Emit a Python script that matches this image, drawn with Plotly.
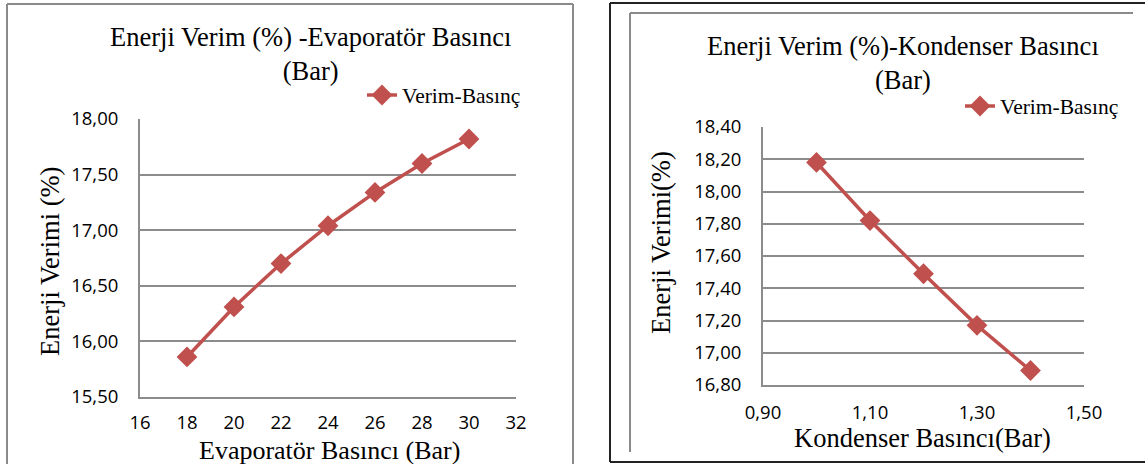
import plotly.graph_objects as go

# Evaporator pressure sweep (bar) and resulting energy efficiency (%)
evap_pressure = [18, 20, 22, 24, 26, 28, 30]
evap_efficiency = [15.86, 16.31, 16.70, 17.04, 17.34, 17.60, 17.82]

# Condenser pressure sweep (bar) and resulting energy efficiency (%)
cond_pressure = [1.00, 1.10, 1.20, 1.30, 1.40]
cond_efficiency = [18.18, 17.82, 17.49, 17.17, 16.89]

series_name = "Verim-Basınç"
left_title = "Enerji Verim (%) -Evaporatör Basıncı<br>(Bar)"
right_title = "Enerji Verim (%)-Kondenser Basıncı<br>(Bar)"
left_xtitle = "Evaporatör Basıncı (Bar)"
left_ytitle = "Enerji Verimi (%)"
right_xtitle = "Kondenser Basıncı(Bar)"
right_ytitle = "Enerji Verimi(%)"

W, H = 1145, 464
RED = "#C0504D"
GRID = "#8c8c8c"
SERIF = "'Liberation Serif', 'Times New Roman', serif"
SANS = "'Open Sans', 'Liberation Sans', sans-serif"


def px_x(v):
    return v / W


def px_y(v):
    return 1 - v / H


fig = go.Figure()

line_style = dict(color=RED, width=3.5)
marker_style = dict(symbol="diamond", size=16, color=RED)

fig.add_trace(go.Scatter(
    x=evap_pressure, y=evap_efficiency, mode="lines+markers",
    line=line_style, marker=marker_style, name=series_name,
    xaxis="x", yaxis="y", legend="legend",
))
fig.add_trace(go.Scatter(
    x=cond_pressure, y=cond_efficiency, mode="lines+markers",
    line=line_style, marker=marker_style, name=series_name,
    xaxis="x2", yaxis="y2", legend="legend2",
))

axis_common = dict(
    showline=True, linecolor=GRID, linewidth=2, mirror=False,
    ticks="", tickfont=dict(family=SANS, size=18.5, color="#000"),
    zeroline=False, fixedrange=True, automargin=False,
)

fig.update_layout(
    width=W, height=H,
    margin=dict(l=0, r=0, t=0, b=0, pad=0, autoexpand=False),
    paper_bgcolor="white", plot_bgcolor="white",
    separators=",.",
    xaxis=dict(
        domain=[px_x(140), px_x(516)], anchor="y",
        range=[16, 32], dtick=2, tick0=16, tickformat="d",
        showgrid=False, ticklabelstandoff=8, **axis_common,
    ),
    yaxis=dict(
        domain=[px_y(397), px_y(119)], anchor="x",
        range=[15.5, 18.0], dtick=0.5, tick0=15.5, tickformat=".2f",
        showgrid=True, gridcolor=GRID, gridwidth=2,
        ticklabelstandoff=16, **axis_common,
    ),
    xaxis2=dict(
        domain=[px_x(763), px_x(1084)], anchor="y2",
        range=[0.9, 1.5], dtick=0.2, tick0=0.9, tickformat=".2f",
        showgrid=False, ticklabelstandoff=10, **axis_common,
    ),
    yaxis2=dict(
        domain=[px_y(385), px_y(127)], anchor="x2",
        range=[16.8, 18.4], dtick=0.2, tick0=16.8, tickformat=".2f",
        showgrid=True, gridcolor=GRID, gridwidth=2,
        ticklabelstandoff=16, **axis_common,
    ),
    legend=dict(
        x=px_x(362), y=px_y(95), xanchor="left", yanchor="middle",
        bgcolor="rgba(0,0,0,0)", font=dict(family=SERIF, size=21.5, color="#000"),
        itemwidth=30,
    ),
    legend2=dict(
        x=px_x(960), y=px_y(106), xanchor="left", yanchor="middle",
        bgcolor="rgba(0,0,0,0)", font=dict(family=SERIF, size=21.5, color="#000"),
        itemwidth=30,
    ),
    showlegend=True,
)

# Chart titles and axis titles: (center x, center y, text, angle, size)
texts = [
    (310, 54, left_title, 0, 26.5),
    (903, 63, right_title, 0, 26.5),
    (329, 450, left_xtitle, 0, 26),
    (922, 438, right_xtitle, 0, 26.5),
    (50, 262, left_ytitle, -90, 26.5),
    (661, 243, right_ytitle, -90, 26.5),
]
for cx, cy, txt, ang, size in texts:
    fig.add_annotation(
        x=px_x(cx), y=px_y(cy), xref="paper", yref="paper",
        text=txt, showarrow=False, textangle=ang,
        xanchor="center", yanchor="middle",
        font=dict(family=SERIF, size=size, color="#000"),
    )

# Frames around the two chart panels
frame = [
    dict(x0=7, y0=4, x1=573, y1=4, color="#8a8a8a", width=2),
    dict(x0=7, y0=4, x1=7, y1=470, color="#8a8a8a", width=2),
    dict(x0=573, y0=4, x1=573, y1=470, color="#8a8a8a", width=2),
    dict(x0=610, y0=3, x1=1150, y1=3, color="#222222", width=2),
    dict(x0=610, y0=3, x1=610, y1=462, color="#222222", width=2),
    dict(x0=610, y0=462, x1=1150, y1=462, color="#222222", width=2),
    dict(x0=630, y0=13, x1=1133, y1=13, color="#8a8a8a", width=2),
    dict(x0=630, y0=13, x1=630, y1=452, color="#8a8a8a", width=2),
]
for f in frame:
    fig.add_shape(
        type="line", xref="paper", yref="paper",
        x0=px_x(f["x0"]), y0=px_y(f["y0"]), x1=px_x(f["x1"]), y1=px_y(f["y1"]),
        line=dict(color=f["color"], width=f["width"]),
    )

fig.write_html("out.html")
